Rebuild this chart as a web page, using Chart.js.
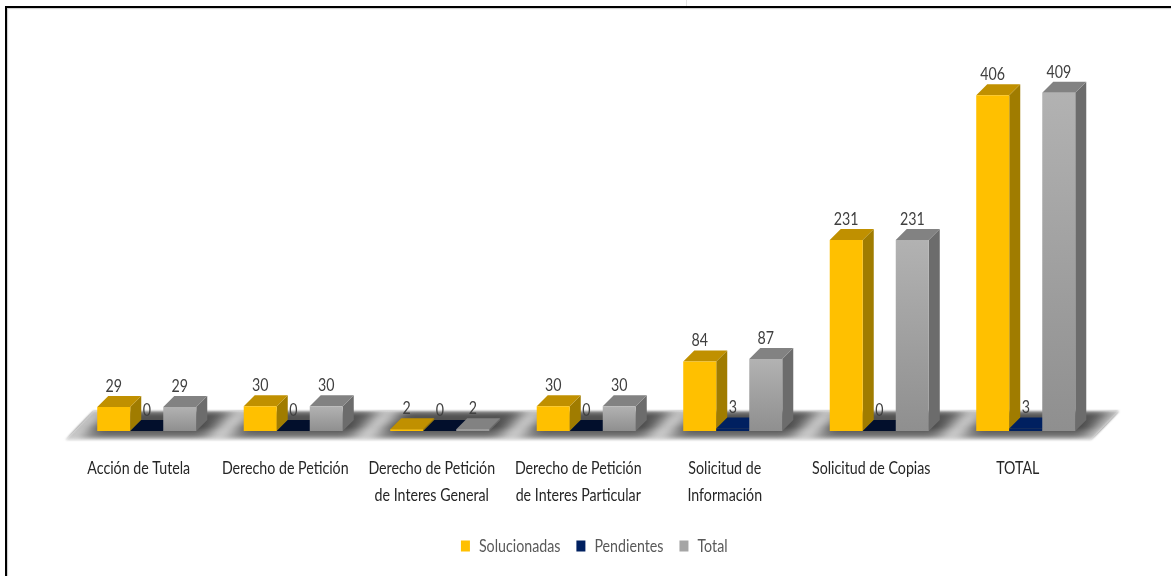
<!DOCTYPE html>
<html lang="es">
<head>
<meta charset="utf-8">
<title>Solicitudes</title>
<script src="https://cdn.jsdelivr.net/npm/chart.js@4"></script>
<style>
  html, body { margin: 0; padding: 0; background: #fff; overflow: hidden; }
  #wrap { position: relative; width: 1171px; height: 576px; }
  #frame { position: absolute; left: 5px; top: 6px; right: 0; bottom: 0; border-top: 2px solid #000; border-left: 2px solid #000; box-shadow: inset 1px 1px 1px #ccc; }
  #mark { position: absolute; left: 686px; top: 0; width: 1px; height: 6px; background: #e4e4e4; }
  canvas { position: absolute; left: 0; top: 0; }
</style>
</head>
<body>
<div id="wrap">
  <div id="frame"></div>
  <div id="mark"></div>
  <canvas id="barChart" width="1171" height="576"></canvas>
</div>
<script>
var categorias = [
    'Acción de Tutela',
    'Derecho de Petición',
    ['Derecho de Petición', 'de Interes General'],
    ['Derecho de Petición', 'de Interes Particular'],
    ['Solicitud de', 'Información'],
    'Solicitud de Copias',
    'TOTAL'
];
var solucionadas = [29, 30, 2, 30, 84, 231, 406];
var pendientes = [0, 0, 0, 0, 3, 0, 3];
var total = [29, 30, 2, 30, 87, 231, 409];

var FUENTE = 'Lato, sans-serif';
var ANCHO_TEXTO = 0.79; // texto condensado en horizontal
var PROF = 11; // profundidad de las barras

// colores de cada serie: frente, tapa, lado
var estilos = [
    { frente: '#ffc000', tapa: '#c09000', lado: '#a07c00' },
    { frente: '#002060', tapa: '#002060', tapa0: '#020f2c', lado: '#001648' },
    { frente: '#a5a5a5', tapa: '#828282', lado: '#6c6c6c' }
];

function degradadoGris(c) {
    if (c.parsed === undefined || c.parsed.y === undefined) return '#a5a5a5';
    var esc = c.chart.scales.y;
    var g = c.chart.ctx.createLinearGradient(0, esc.getPixelForValue(c.parsed.y), 0, esc.getPixelForValue(0));
    g.addColorStop(0, '#b2b2b2');
    g.addColorStop(1, '#8f8f8f');
    return g;
}

function poligono(ctx, pts, color) {
    ctx.beginPath();
    ctx.moveTo(pts[0][0], pts[0][1]);
    for (var i = 1; i < pts.length; i++) ctx.lineTo(pts[i][0], pts[i][1]);
    ctx.closePath();
    ctx.fillStyle = color;
    ctx.fill();
}

function dibujarPiso(chart) {
    var ctx = chart.ctx, area = chart.chartArea;
    var izq = area.left, der = area.right, base = area.bottom;
    var piso = [[izq - 8, base + 9], [der - 8, base + 9], [der + 20, base - 20], [izq + 20, base - 20]];

    ctx.save();
    ctx.filter = 'blur(1px)';
    var g = ctx.createLinearGradient(0, base - 20, 0, base + 9);
    g.addColorStop(0, '#909090');
    g.addColorStop(0.15, '#565656');
    g.addColorStop(0.55, '#484848');
    g.addColorStop(0.85, '#7a7a7a');
    g.addColorStop(1, '#d8d8d8');
    poligono(ctx, piso, g);
    ctx.restore();

    // franjas claras entre categorias
    ctx.save();
    ctx.beginPath();
    ctx.moveTo(piso[0][0], piso[0][1]);
    for (var k = 1; k < 4; k++) ctx.lineTo(piso[k][0], piso[k][1]);
    ctx.closePath();
    ctx.clip();
    ctx.filter = 'blur(7px)';
    var paso = (der - izq) / categorias.length;
    for (var i = 0; i <= categorias.length; i++) {
        var cx = izq + paso * i;
        poligono(ctx, [[cx - 19, base + 12], [cx + 3, base + 12], [cx + 39, base - 24], [cx + 17, base - 24]], 'rgba(235,235,235,0.95)');
    }
    ctx.restore();
}

function dibujarCaras(ctx, barra, est, valor) {
    var iz = barra.x - barra.width / 2, de = barra.x + barra.width / 2;
    var arriba = barra.y, base = barra.base;
    poligono(ctx, [[de, base], [de + PROF, base - PROF], [de + PROF, arriba - PROF], [de, arriba]], est.lado);
    poligono(ctx, [[iz, arriba], [de, arriba], [de + PROF, arriba - PROF], [iz + PROF, arriba - PROF]],
        valor === 0 && est.tapa0 ? est.tapa0 : est.tapa);
}

var barras3d = {
    id: 'barras3d',
    afterLayout: function(chart) {
        // leyenda un poco a la derecha del centro
        chart.legend.left += 8;
        chart.legend.right += 8;
    },
    beforeDatasetsDraw: function(chart) {
        var ctx = chart.ctx;
        dibujarPiso(chart);

        // de izquierda a derecha, para que cada frente tape la tapa de la serie anterior
        chart.data.datasets.forEach(function(ds, d) {
            var meta = chart.getDatasetMeta(d);
            meta.data.forEach(function(barra, i) {
                dibujarCaras(ctx, barra, estilos[d], ds.data[i]);
                barra.draw(ctx, chart.chartArea);
            });
        });

        ctx.save();
        ctx.font = '18px ' + FUENTE;
        ctx.fillStyle = '#404040';
        ctx.textAlign = 'center';
        ctx.textBaseline = 'middle';
        chart.data.datasets.forEach(function(ds, d) {
            chart.getDatasetMeta(d).data.forEach(function(barra, i) {
                ctx.fillText(ds.data[i], barra.x, barra.y - 21);
            });
        });
        ctx.restore();
        return false;
    }
};

var ctx = document.getElementById('barChart').getContext('2d');

// todo el texto del lienzo pasa por aqui para salir condensado
var fillTextBase = ctx.fillText.bind(ctx);
var measureTextBase = ctx.measureText.bind(ctx);
ctx.fillText = function(texto, x, y) {
    ctx.save();
    ctx.translate(x, y);
    ctx.scale(ANCHO_TEXTO, 1);
    fillTextBase(texto, 0, 0);
    ctx.restore();
};
ctx.measureText = function(texto) {
    return { width: measureTextBase(texto).width * ANCHO_TEXTO };
};

var grafico = new Chart(ctx, {
    type: 'bar',
    data: {
        labels: categorias,
        datasets: [
            { label: 'Solucionadas', data: solucionadas, backgroundColor: estilos[0].frente },
            { label: 'Pendientes', data: pendientes, backgroundColor: estilos[1].frente },
            { label: 'Total', data: total, backgroundColor: degradadoGris }
        ]
    },
    options: {
        responsive: false,
        animation: false,
        layout: { padding: { left: 73.5, right: 72, top: 17.5, bottom: 11 } },
        datasets: { bar: { categoryPercentage: 0.676, barPercentage: 1 } },
        scales: {
            x: {
                grid: { display: false },
                border: { display: false },
                afterFit: function(scale) { scale.height = 90; },
                ticks: {
                    color: '#262626',
                    padding: 16,
                    labelOffset: -8,
                    maxRotation: 0,
                    autoSkip: false,
                    font: { family: FUENTE, size: 18, lineHeight: 1.5 }
                }
            },
            y: { display: false, min: 0, max: 500 }
        },
        plugins: {
            legend: {
                position: 'bottom',
                labels: {
                    boxWidth: 9,
                    boxHeight: 11,
                    padding: 16,
                    color: '#595959',
                    font: { family: FUENTE, size: 18 },
                    generateLabels: function(chart) {
                        return chart.data.datasets.map(function(ds, d) {
                            return {
                                text: ds.label,
                                fillStyle: estilos[d].frente,
                                strokeStyle: estilos[d].frente,
                                lineWidth: 0,
                                fontColor: '#595959',
                                datasetIndex: d
                            };
                        });
                    }
                }
            },
            tooltip: { enabled: false }
        }
    },
    plugins: [barras3d]
});
</script>
</body>
</html>
